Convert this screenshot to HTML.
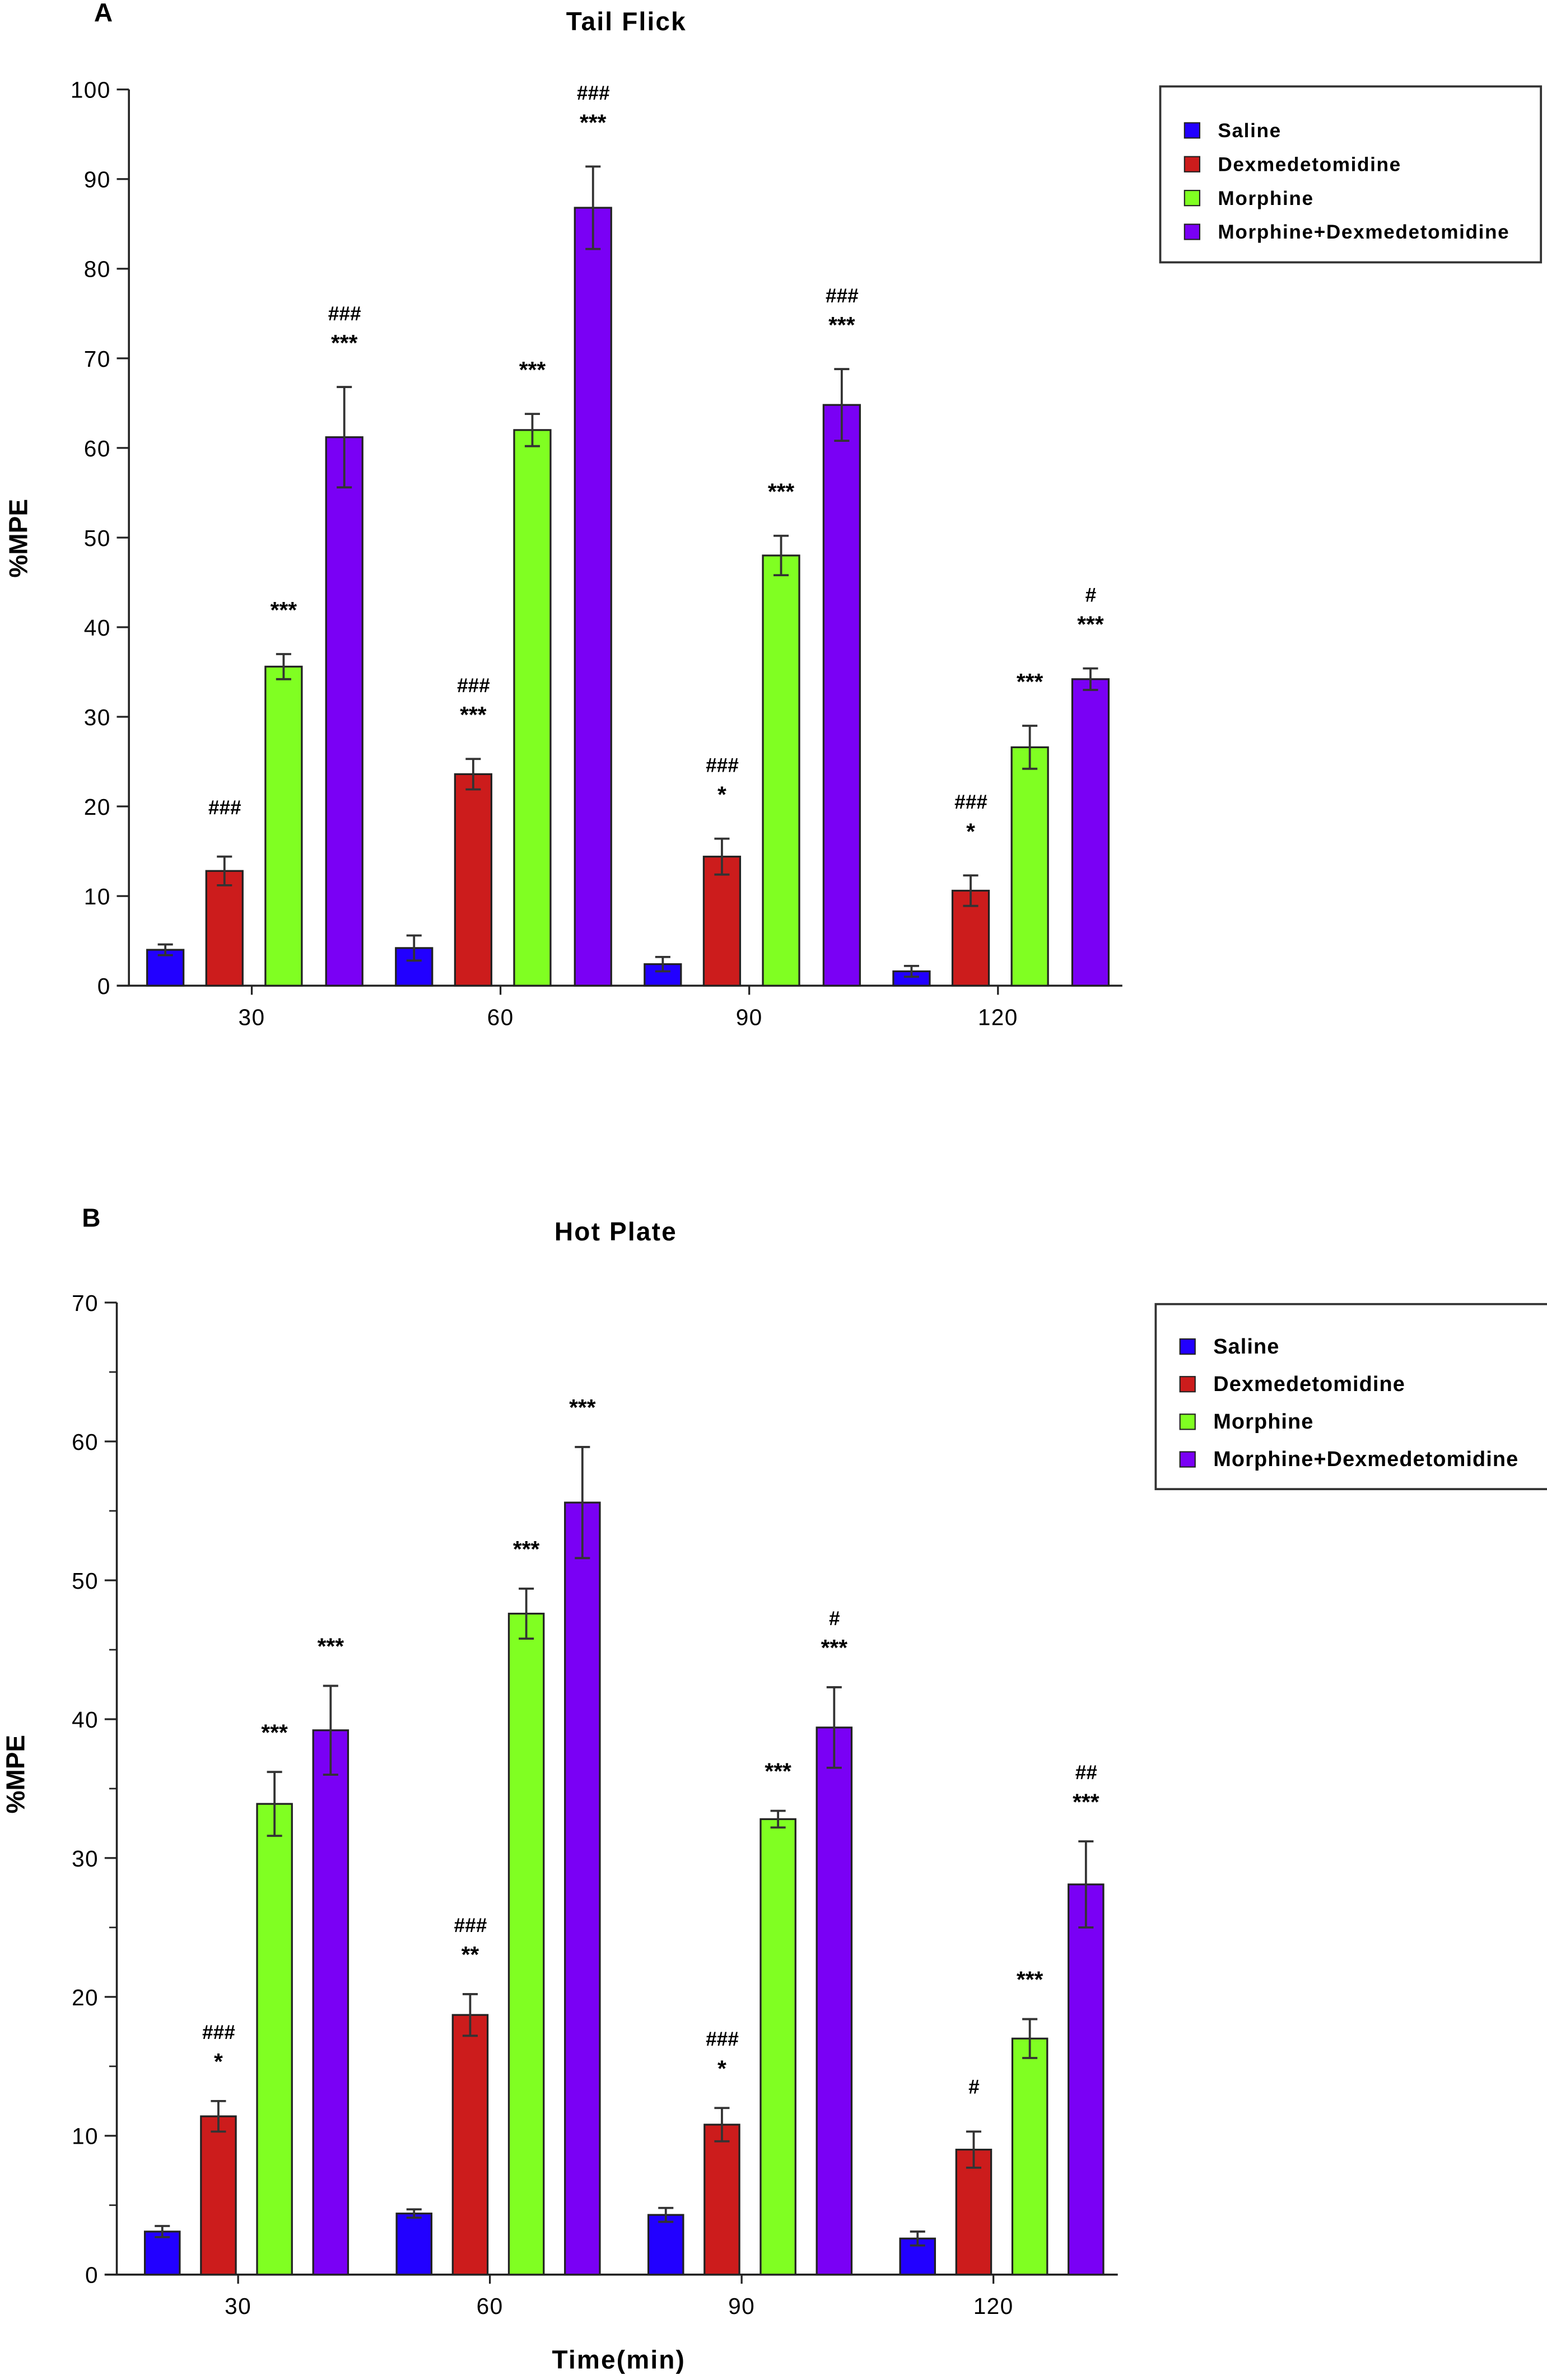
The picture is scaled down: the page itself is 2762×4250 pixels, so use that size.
<!DOCTYPE html>
<html><head><meta charset="utf-8"><style>
html,body{margin:0;padding:0;background:#fff}
svg{display:block}
text{font-family:"Liberation Sans",sans-serif}
</style></head><body>
<svg id="chart" width="2762" height="4250" viewBox="0 0 1020 1569.5" preserveAspectRatio="none" xmlns="http://www.w3.org/2000/svg"></svg>
<script>
const categories = ["30","60","90","120"];
const seriesNames = ["Saline","Dexmedetomidine","Morphine","Morphine+Dexmedetomidine"];
const colors = ["#2200ff","#cc1c1c","#80ff22","#7a00f5"];
// Panel A: Tail Flick
const aSaline = [4.0,4.2,2.4,1.6];
const aDex = [12.8,23.6,14.4,10.6];
const aMor = [35.6,62.0,48.0,26.6];
const aCombo = [61.2,86.8,64.8,34.2];
const aSalineErr = [0.6,1.4,0.8,0.6];
const aDexErr = [1.6,1.7,2.0,1.7];
const aMorErr = [1.4,1.8,2.2,2.4];
const aComboErr = [5.6,4.6,4.0,1.2];
const aDexSig = [["###"],["###","***"],["###","*"],["###","*"]];
const aMorSig = [["***"],["***"],["***"],["***"]];
const aComboSig = [["###","***"],["###","***"],["###","***"],["#","***"]];
const aTicks = [0,10,20,30,40,50,60,70,80,90,100];
// Panel B: Hot Plate
const bSaline = [3.1,4.4,4.3,2.6];
const bDex = [11.4,18.7,10.8,9.0];
const bMor = [33.9,47.6,32.8,17.0];
const bCombo = [39.2,55.6,39.4,28.1];
const bSalineErr = [0.4,0.3,0.5,0.5];
const bDexErr = [1.1,1.5,1.2,1.3];
const bMorErr = [2.3,1.8,0.6,1.4];
const bComboErr = [3.2,4.0,2.9,3.1];
const bDexSig = [["###","*"],["###","**"],["###","*"],["#"]];
const bMorSig = [["***"],["***"],["***"],["***"]];
const bComboSig = [["***"],["***"],["#","***"],["##","***"]];
const bTicks = [0,10,20,30,40,50,60,70];

const svg = document.getElementById('chart');
const NS = "http://www.w3.org/2000/svg";
function mk(tag, attrs, parent){
  const e = document.createElementNS(NS, tag);
  for (const k in attrs) e.setAttribute(k, attrs[k]);
  (parent||svg).appendChild(e);
  return e;
}
function txt(s, attrs, parent){ const t = mk('text', attrs, parent); t.textContent = s; return t; }

function panel(cfg){
  const g = mk('g', {});
  
  
  const y = v => cfg.y0 - (v - 0) / cfg.ymax * (cfg.y0 - cfg.yTop);
  const xc = i => cfg.x30 + i * cfg.gap;
  let t = txt(cfg.letter, {x:cfg.letterX, y:cfg.letterY, 'font-size':17, 'font-weight':'bold'}, g);
  
  
  t = txt(cfg.title, {x:cfg.titleX, y:cfg.titleY, 'font-size':17, 'font-weight':'bold', 'text-anchor':'middle', 'letter-spacing':0.8}, g);
  
  
  let l = mk('line', {x1:cfg.xAxis, x2:cfg.xAxis, y1:cfg.yTop, y2:cfg.y0, stroke:'#222', 'stroke-width':1.3}, g);
  
  
  l = mk('line', {x1:cfg.xAxis - 8, x2:cfg.xEnd, y1:cfg.y0, y2:cfg.y0, stroke:'#222', 'stroke-width':1.3}, g);
  
  
  cfg.ticks.forEach(v => {
    mk('line', {x1:cfg.xAxis - 8, x2:cfg.xAxis, y1:y(v), y2:y(v), stroke:'#222', 'stroke-width':1.2}, g);
    const tl = txt(String(v), {x:cfg.xAxis - 12, y:y(v) + 5.5, 'font-size':15, 'text-anchor':'end', 'letter-spacing':0.5}, g);
    
    
  });
  if (cfg.minor) {
    for (let i = 0; i < cfg.ticks.length - 1; i++) {
      const v = (cfg.ticks[i] + cfg.ticks[i+1]) / 2;
      mk('line', {x1:cfg.xAxis - 5, x2:cfg.xAxis, y1:y(v), y2:y(v), stroke:'#222', 'stroke-width':1}, g);
    }
  }
  const yl = txt('%MPE', {x:0, y:0, 'font-size':17, 'font-weight':'bold', 'text-anchor':'middle', transform:`translate(${cfg.ylabX},${cfg.ylabY}) rotate(-90)`}, g);
  
  
  categories.forEach((c, i) => {
    mk('line', {x1:xc(i), x2:xc(i), y1:cfg.y0, y2:cfg.y0 + 6, stroke:'#222', 'stroke-width':1.2}, g);
    const cl = txt(c, {x:xc(i), y:cfg.y0 + 26, 'font-size':15, 'text-anchor':'middle', 'letter-spacing':0.5}, g);
    
    
  });
  const series = [cfg.s0, cfg.s1, cfg.s2, cfg.s3];
  const errs = [cfg.e0, cfg.e1, cfg.e2, cfg.e3];
  const sigs = [null, cfg.sig1, cfg.sig2, cfg.sig3];
  series.forEach((vals, si) => {
    vals.forEach((v, i) => {
      const cx = xc(i) + cfg.offsets[si];
      const bw = cfg.bw;
      const r = mk('rect', {x:cx - bw/2, y:y(v), width:bw, height:cfg.y0 - y(v), fill:colors[si], stroke:'#222', 'stroke-width':1.2}, g);
      
      
      const e = errs[si][i];
      const eg = mk('g', {stroke:'#333', 'stroke-width':1.4}, g);
      
      
      mk('line', {x1:cx, x2:cx, y1:y(v - e), y2:y(v + e)}, eg);
      mk('line', {x1:cx - 5, x2:cx + 5, y1:y(v + e), y2:y(v + e)}, eg);
      mk('line', {x1:cx - 5, x2:cx + 5, y1:y(v - e), y2:y(v - e)}, eg);
      if (sigs[si]) {
        const lines = sigs[si][i];
        const base = y(v + e) - cfg.sigGap;
        lines.slice().reverse().forEach((s, k) => {
          const st = txt(s, {x:cx, y:base - k * 16 + (s.indexOf('*') >= 0 ? 4 : 0), 'font-size': s.indexOf('*') >= 0 ? 15 : 13, 'font-weight': 'bold', 'text-anchor':'middle', 'font-style': s.indexOf('#')>=0 ? 'italic':'normal'}, g);
          
          
        });
      }
    });
  });
  const lg = mk('g', {}, g);
  
  
  mk('rect', {x:cfg.legX, y:cfg.legY, width:cfg.legW, height:cfg.legH, fill:'#fff', stroke:'#333', 'stroke-width':1.4}, lg);
  seriesNames.forEach((n, k) => {
    const ey = cfg.legY + cfg.legFirst + k * cfg.legStep;
    const le = mk('g', {}, lg);
    
    
    mk('rect', {x:cfg.legX + 16, y:ey - 5, width:10, height:10, fill:colors[k], stroke:'#222', 'stroke-width':0.8}, le);
    txt(n, {x:cfg.legX + 38, y:ey + 4.5, 'font-size':cfg.legFont, 'font-weight':'bold', 'letter-spacing':cfg.legLs}, le);
  });
}

panel({name:'panel-a-tail-flick', letter:'A', letterX:62, letterY:14, title:'Tail Flick', titleX:413, titleY:20,
  xAxis:85, xEnd:740, yTop:59, y0:650, ymax:100, ticks:aTicks, minor:false,
  ylabX:18, ylabY:355, x30:166, gap:164, offsets:[-57,-18,21,61], bw:24, sigGap:28,
  s0:aSaline, s1:aDex, s2:aMor, s3:aCombo, e0:aSalineErr, e1:aDexErr, e2:aMorErr, e3:aComboErr,
  sig1:aDexSig, sig2:aMorSig, sig3:aComboSig,
  legX:765, legY:57, legW:251, legH:116, legFirst:29, legStep:22.3, legFont:13, legLs:0.6});

panel({name:'panel-b-hot-plate', letter:'B', letterX:54, letterY:809, title:'Hot Plate', titleX:406, titleY:818,
  xAxis:77, xEnd:737, yTop:859, y0:1500, ymax:70, ticks:bTicks, minor:true,
  ylabX:16, ylabY:1170, x30:157, gap:166, offsets:[-50,-13,24,61], bw:23, sigGap:25,
  s0:bSaline, s1:bDex, s2:bMor, s3:bCombo, e0:bSalineErr, e1:bDexErr, e2:bMorErr, e3:bComboErr,
  sig1:bDexSig, sig2:bMorSig, sig3:bComboSig,
  legX:762, legY:860, legW:260, legH:122, legFirst:28, legStep:24.8, legFont:14, legLs:0.4});

const xt = txt('Time(min)', {x:408, y:1562, 'font-size':17, 'font-weight':'bold', 'text-anchor':'middle', 'letter-spacing':0.8});


</script>
</body></html>
